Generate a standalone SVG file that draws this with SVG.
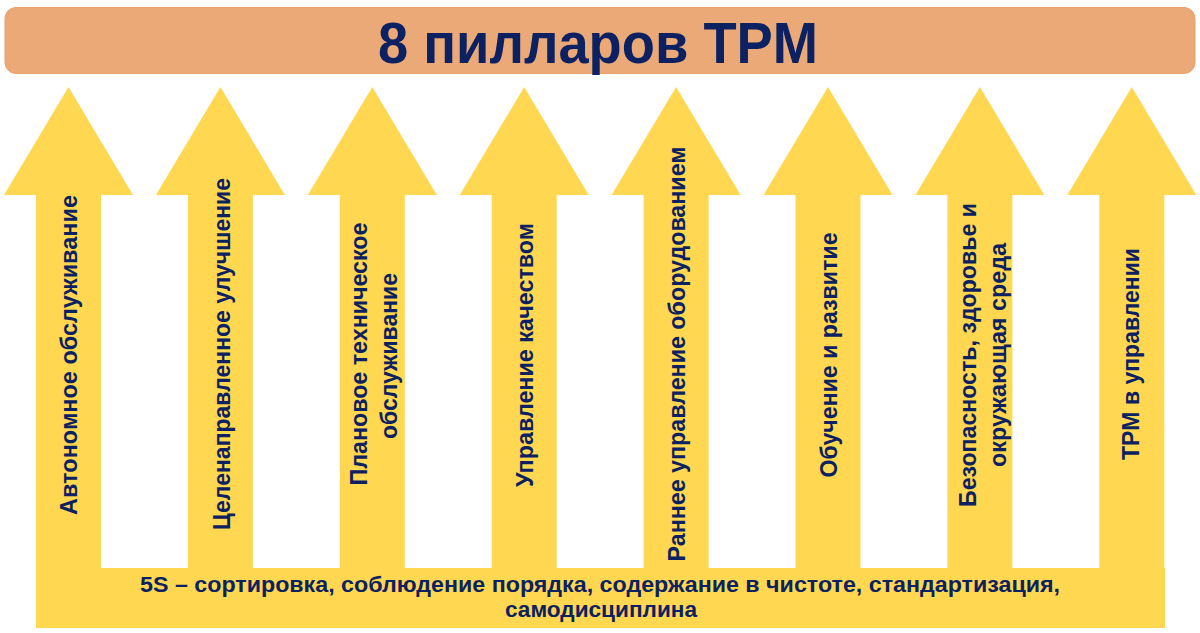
<svg xmlns="http://www.w3.org/2000/svg" width="1200" height="633" viewBox="0 0 1200 633">
<defs>
<style>
.arrow{fill:#FFD750;}
.lbl{font-family:"Liberation Sans",Arial,sans-serif;font-weight:bold;font-size:23px;fill:#0C2161;text-anchor:middle;dominant-baseline:central;}
.base{font-family:"Liberation Sans",Arial,sans-serif;font-weight:bold;font-size:21.5px;fill:#0C2161;text-anchor:middle;}
.title{font-family:"Liberation Sans",Arial,sans-serif;font-weight:bold;font-size:57px;fill:#0C2161;text-anchor:middle;}
</style>
</defs>
<rect width="1200" height="633" fill="#FFFFFF"/>
<g id="title">
<rect x="5" y="7.5" width="1190" height="66" rx="11" fill="#EBA978" stroke="#E9A06C" stroke-width="1"/>
<text class="title" x="598" y="63" textLength="440" lengthAdjust="spacingAndGlyphs">8 пилларов TPM</text>
</g>
<g id="base">
<rect class="arrow" x="36" y="568" width="1129" height="60"/>
<text class="base" x="600" y="592" textLength="920" lengthAdjust="spacingAndGlyphs">5S – сортировка, соблюдение порядка, содержание в чистоте, стандартизация,</text>
<text class="base" x="601" y="617" textLength="192" lengthAdjust="spacingAndGlyphs">самодисциплина</text>
</g>
<g id="pillar1">
<polygon class="arrow" points="68.5,87 133,195 101,195 101,570 36,570 36,195 4,195"/>
<text class="lbl" transform="translate(69,355) rotate(-90)" textLength="320" lengthAdjust="spacingAndGlyphs">Автономное обслуживание</text>
</g>
<g id="pillar2">
<polygon class="arrow" points="220.4,87 284.9,195 252.9,195 252.9,570 187.9,570 187.9,195 155.9,195"/>
<text class="lbl" transform="translate(222,354) rotate(-90)" textLength="352" lengthAdjust="spacingAndGlyphs">Целенаправленное улучшение</text>
</g>
<g id="pillar3">
<polygon class="arrow" points="372.3,87 436.8,195 404.8,195 404.8,570 339.8,570 339.8,195 307.8,195"/>
<text class="lbl" transform="translate(358.5,354) rotate(-90)" textLength="263" lengthAdjust="spacingAndGlyphs">Плановое техническое</text>
<text class="lbl" transform="translate(388.5,356) rotate(-90)" textLength="166" lengthAdjust="spacingAndGlyphs">обслуживание</text>
</g>
<g id="pillar4">
<polygon class="arrow" points="524.2,87 588.7,195 556.7,195 556.7,570 491.7,570 491.7,195 459.7,195"/>
<text class="lbl" transform="translate(525,355) rotate(-90)" textLength="264" lengthAdjust="spacingAndGlyphs">Управление качеством</text>
</g>
<g id="pillar5">
<polygon class="arrow" points="676.1,87 740.6,195 708.6,195 708.6,570 643.6,570 643.6,195 611.6,195"/>
<text class="lbl" transform="translate(677,354) rotate(-90)" textLength="415" lengthAdjust="spacingAndGlyphs">Раннее управление оборудованием</text>
</g>
<g id="pillar6">
<polygon class="arrow" points="828,87 892.5,195 860.5,195 860.5,570 795.5,570 795.5,195 763.5,195"/>
<text class="lbl" transform="translate(829,355) rotate(-90)" textLength="245" lengthAdjust="spacingAndGlyphs">Обучение и развитие</text>
</g>
<g id="pillar7">
<polygon class="arrow" points="979.9,87 1044.4,195 1012.4,195 1012.4,570 947.4,570 947.4,195 915.4,195"/>
<text class="lbl" transform="translate(968,355) rotate(-90)" textLength="304" lengthAdjust="spacingAndGlyphs">Безопасность, здоровье и</text>
<text class="lbl" transform="translate(997.5,355) rotate(-90)" textLength="224" lengthAdjust="spacingAndGlyphs">окружающая среда</text>
</g>
<g id="pillar8">
<polygon class="arrow" points="1131.8,87 1196.3,195 1164.3,195 1164.3,570 1099.3,570 1099.3,195 1067.3,195"/>
<text class="lbl" transform="translate(1131,354) rotate(-90)" textLength="212" lengthAdjust="spacingAndGlyphs">TPM в управлении</text>
</g>
<g id="connectors"></g>
</svg>
